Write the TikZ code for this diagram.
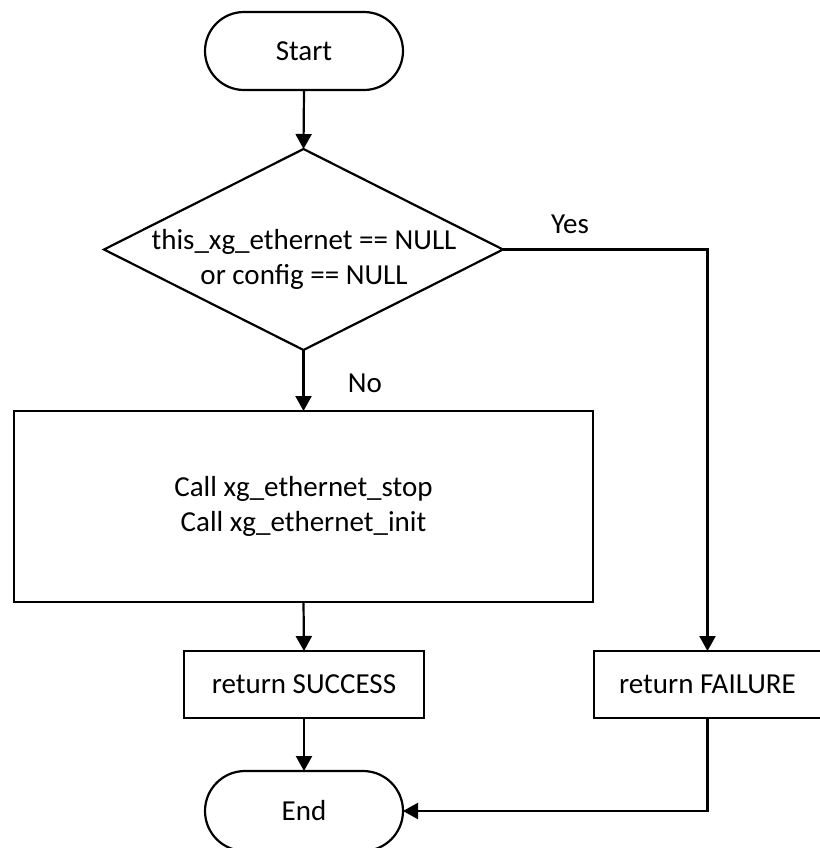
\documentclass[tikz,border=0pt]{standalone}
\usepackage{fontspec}
\setmainfont{Carlito}
\usetikzlibrary{arrows.meta,shapes.geometric}
\begin{document}
\begin{tikzpicture}[x=1pt,y=-1pt,
  font=\fontsize{29}{35}\selectfont,
  every node/.style={inner sep=0pt, outer sep=0pt},
  line/.style={line width=2.2pt},
  flow/.style={line, -{Triangle[length=15pt,width=16pt]}},
  terminal/.style={draw, line, rectangle, rounded corners=39pt,
    minimum width=198pt, minimum height=78pt},
  box/.style={draw, line, rectangle, align=center},
  decision/.style={draw, line, diamond, minimum width=399pt, minimum height=201pt}]
  \useasboundingbox (0,0) rectangle (819,848);

  % shapes
  \node[terminal] (start) at (304,51) {Start};
  \node[decision] (dec) at (303.5,249.5) {};
  \node[align=center] (dectext) at (304,259) {this\_xg\_ethernet == NULL\\or config == NULL};
  \node[box, minimum width=579pt, minimum height=191pt] (proc) at (303.5,506.5)
    {Call xg\_ethernet\_stop\\Call xg\_ethernet\_init};
  \node[box, minimum width=240pt, minimum height=67pt] (succ) at (304,684.5) {return SUCCESS};
  \node[box, minimum width=227pt, minimum height=67pt] (fail) at (707.5,684.5) {return FAILURE};
  \node[terminal, minimum height=80pt, rounded corners=40pt] (end) at (304,811) {End};

  % connectors
  \draw[flow] (start.south) -- (dec.north);
  \draw[flow] (dec.south) -- (proc.north);
  \draw[flow] (dec.east) -| (fail.north);
  \draw[flow] (proc.south) -- (succ.north);
  \draw[flow] (succ.south) -- (end.north);
  \draw[flow] (fail.south) |- (end.east);

  % branch labels
  \node (yes) at (570,224) {Yes};
  \node (no) at (365,383) {No};
\end{tikzpicture}
\end{document}
